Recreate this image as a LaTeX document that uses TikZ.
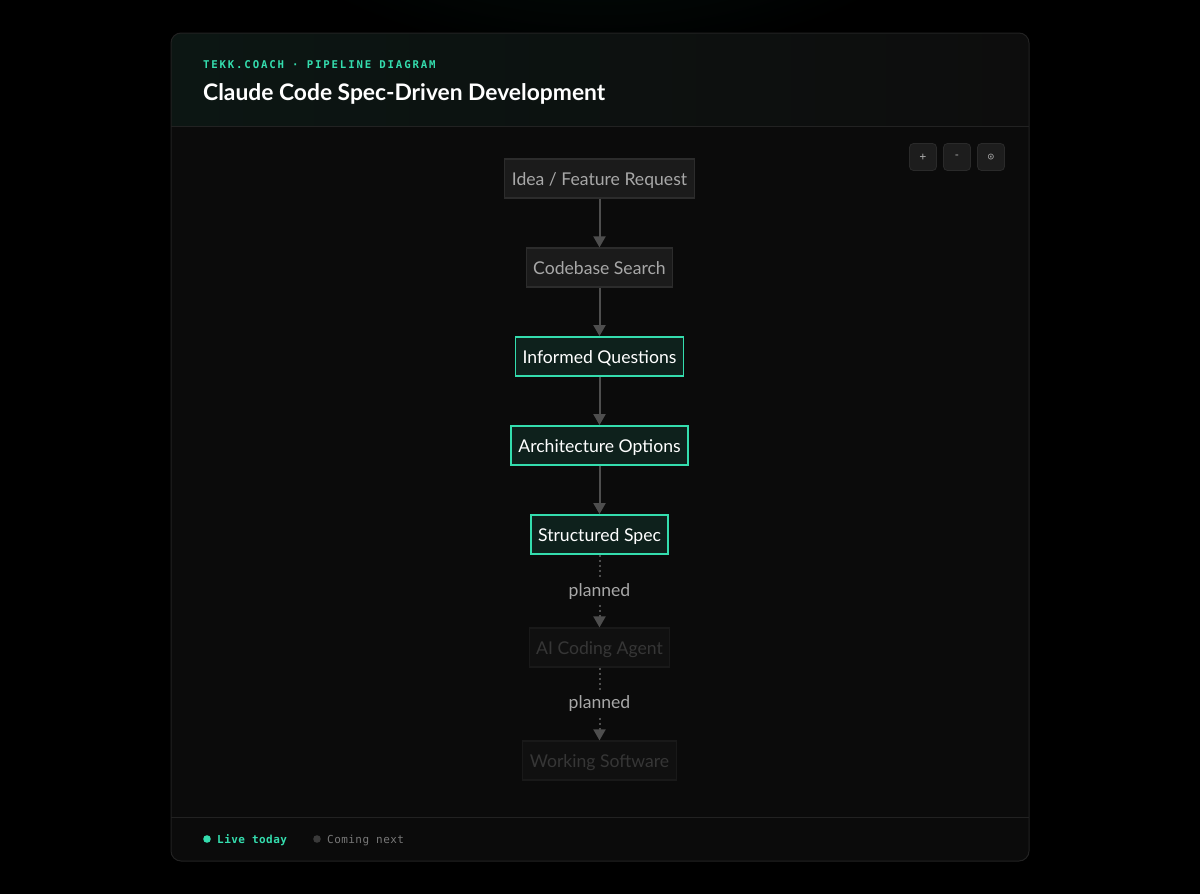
\documentclass[tikz,border=0pt]{standalone}
\usepackage{fontspec}
\setmainfont{Lato}
\newfontfamily\monofont{DejaVu Sans Mono}
\newfontfamily\hdrmono[LetterSpace=17]{DejaVu Sans Mono}
\newfontfamily\ftmono[LetterSpace=4]{DejaVu Sans Mono}
\usetikzlibrary{arrows.meta,positioning}
\definecolor{pagebg}{HTML}{000000}
\definecolor{glow}{HTML}{041A14}
\definecolor{cardbg}{HTML}{0B0B0B}
\definecolor{cardline}{HTML}{222222}
\definecolor{hdrleft}{HTML}{0C1613}
\definecolor{hdrright}{HTML}{0D0D0D}
\definecolor{teal}{HTML}{34DDAE}
\definecolor{tealfill}{HTML}{0E211C}
\definecolor{nodefill}{HTML}{1B1B1B}
\definecolor{nodeline}{HTML}{2C2C2C}
\definecolor{nodetext}{HTML}{A8A8A8}
\definecolor{dimfill}{HTML}{101010}
\definecolor{dimline}{HTML}{191919}
\definecolor{dimtext}{HTML}{363636}
\definecolor{arrowcol}{HTML}{4E4E4E}
\definecolor{btnfill}{HTML}{1D1D1D}
\definecolor{btnline}{HTML}{2A2A2A}
\definecolor{greydot}{HTML}{3A3A3A}
\definecolor{greytext}{HTML}{787878}
\tikzset{
  base/.style={rectangle, minimum height=39pt, inner xsep=7pt, font=\fontsize{17.6}{19}\selectfont, line width=1.2pt, text height=14pt, text depth=0pt},
  donebox/.style={base, fill=nodefill, draw=nodeline, text=nodetext},
  livebox/.style={base, fill=tealfill, draw=teal, text=white, line width=1.8pt},
  nextbox/.style={base, fill=dimfill, draw=dimline, text=dimtext},
  flow/.style={draw=arrowcol, line width=2pt, -{Triangle[width=12pt,length=11pt]}},
  planflow/.style={flow, dash pattern=on 2pt off 3pt},
  plannedlbl/.style={fill=cardbg, text=nodetext, font=\fontsize{17.6}{19}\selectfont, inner sep=3pt},
  btn/.style={rectangle, rounded corners=4pt, fill=btnfill, draw=btnline, line width=0.8pt, minimum width=27pt, minimum height=27pt, text=nodetext, font=\monofont\fontsize{11}{12}\selectfont},
}
\begin{document}
\begin{tikzpicture}[x=1pt,y=-1pt]
\useasboundingbox (0,0) rectangle (1200,894);
\fill[pagebg] (0,0) rectangle (1200,894);
\shade[inner color=glow, outer color=pagebg] (600,-200) ellipse (420 and 260);
\fill[pagebg] (0,40) rectangle (1200,894);
% card
\begin{scope}
\clip[rounded corners=10pt] (171,33) rectangle (1029,861);
\fill[cardbg] (171,33) rectangle (1029,861);
\shade[left color=hdrleft, right color=hdrright] (171,33) rectangle (1029,126);
\draw[cardline, line width=1pt] (171,126) -- (1029,126);
\draw[cardline, line width=1pt] (171,817) -- (1029,817);
\end{scope}
\draw[cardline, line width=1pt, rounded corners=10pt] (171,33) rectangle (1029,861);
% header
\node[anchor=base west, inner sep=0, text=teal, font=\hdrmono\bfseries\fontsize{10.7}{12}\selectfont] (kicker) at (203,68) {TEKK.COACH · PIPELINE DIAGRAM};
\node[anchor=base west, inner sep=0, text=white, font=\bfseries\fontsize{22.8}{25}\selectfont] (title) at (203,100) {Claude Code Spec-Driven Development};
% buttons
\node[btn] (zin) at (923,157) {+};
\node[btn] (zout) at (957,157) {-};
\node[btn] (zreset) at (991,157) {⊙};
% nodes
\node[donebox] (idea) at (599.5,178.5) {Idea / Feature Request};
\node[donebox] (search) at (599.5,267.5) {Codebase Search};
\node[livebox] (questions) at (599.5,356.5) {Informed Questions};
\node[livebox] (arch) at (599.5,445.5) {Architecture Options};
\node[livebox] (spec) at (599.5,534.5) {Structured Spec};
\node[nextbox] (agent) at (599.5,647.5) {AI Coding Agent};
\node[nextbox] (software) at (599.5,760.5) {Working Software};
% connectors
\draw[flow] (idea) -- (search);
\draw[flow] (search) -- (questions);
\draw[flow] (questions) -- (arch);
\draw[flow] (arch) -- (spec);
\draw[planflow] (spec) -- (agent) node[plannedlbl, pos=0.5] (pl1) {planned};
\draw[planflow] (agent) -- (software) node[plannedlbl, pos=0.5] (pl2) {planned};
% footer
\fill[teal] (207,839) circle (3.8pt);
\node[anchor=base west, inner sep=0, text=teal, font=\ftmono\bfseries\fontsize{11}{12}\selectfont] (live) at (217,843) {Live today};
\fill[greydot] (317,839) circle (3.8pt);
\node[anchor=base west, inner sep=0, text=greytext, font=\ftmono\fontsize{11}{12}\selectfont] (next) at (327,843) {Coming next};
\end{tikzpicture}
\end{document}
